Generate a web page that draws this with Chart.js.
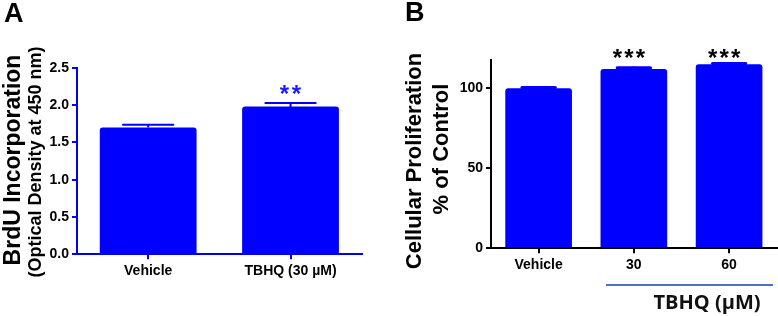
<!DOCTYPE html>
<html>
<head>
<meta charset="utf-8">
<script src="https://cdn.jsdelivr.net/npm/chart.js@4.4.0/dist/chart.umd.min.js"></script>
<style>
  html,body{margin:0;padding:0;background:#fff;}
  #wrap{position:relative;width:778px;height:316px;overflow:hidden;background:#fff;font-family:"Liberation Sans",Arial,sans-serif;}
  canvas{position:absolute;top:0;}
  .rot{position:absolute;white-space:nowrap;line-height:1;font-weight:bold;color:#000;transform:translate(-50%,-50%) rotate(-90deg);}
  .lbl{position:absolute;font-weight:bold;line-height:1;color:#000;}
</style>
</head>
<body>
<div id="wrap">
  <canvas id="cA" width="380" height="316" style="left:0"></canvas>
  <canvas id="cB" width="388" height="316" style="left:390px"></canvas>
  <div class="lbl" style="left:4px;top:0;font-size:27px;">A</div>
  <div class="lbl" style="left:405px;top:-1px;font-size:27px;">B</div>
  <div class="rot" style="left:11.5px;top:160px;font-size:23px;">BrdU Incorporation</div>
  <div class="rot" style="left:35px;top:162px;font-size:18px;">(Optical Density at 450 nm)</div>
  <div class="rot" style="left:414px;top:161px;font-size:22px;">Cellular Proliferation</div>
  <div class="rot" style="left:441px;top:149px;font-size:22px;">% of Control</div>
  <div style="position:absolute;left:606px;top:284px;width:167px;height:2px;background:#4a74c0;"></div>
  <div style="position:absolute;left:707px;top:302px;transform:translate(-50%,-50%);font-family:'Open Sans',sans-serif;font-weight:700;font-size:20px;color:#111;white-space:nowrap;line-height:1;">TBHQ (µM)</div>
</div>
<script>
// ---- Panel A data ----
const catsA = ['Vehicle', 'TBHQ (30 µM)'];
const valsA = [1.70, 1.98];
const errsA = [0.05, 0.06];
const starsA = ['', '**'];
const ticksA = [0, 0.5, 1.0, 1.5, 2.0, 2.5];

// ---- Panel B data ----
const catsB = ['Vehicle', '30', '60'];
const valsB = [100, 112, 115];
const errsB = [1.4, 1.8, 1.4];
const starsB = ['', '***', '***'];
const ticksB = [0, 50, 100];

const BLUE = '#0000ff';
const AXA = '#0000ee';

const errPlugin = {
  id: 'errbars',
  afterDatasetsDraw(chart, args, opts) {
    const ctx = chart.ctx;
    const meta = chart.getDatasetMeta(0);
    const ys = chart.scales.y;
    const ds = chart.data.datasets[0];
    ctx.save();
    meta.data.forEach((bar, i) => {
      const v = ds.data[i], e = opts.errors[i];
      const yTop = ys.getPixelForValue(v + e);
      const yBar = ys.getPixelForValue(v);
      const half = bar.width * opts.capFrac / 2;
      ctx.strokeStyle = opts.color;
      ctx.lineWidth = opts.lineWidth;
      const yc = yTop + opts.lineWidth / 2;
      ctx.beginPath();
      ctx.moveTo(bar.x, yBar);
      ctx.lineTo(bar.x, yc);
      ctx.stroke();
      ctx.beginPath();
      ctx.lineCap = 'round';
      ctx.moveTo(bar.x - half, yc);
      ctx.lineTo(bar.x + half, yc);
      ctx.stroke();
      // stars
      const s = opts.stars[i];
      if (s) {
        ctx.fillStyle = opts.starColor;
        ctx.font = 'bold ' + opts.starSize + 'px "Liberation Sans", Arial, sans-serif';
        ctx.textAlign = 'center';
        ctx.textBaseline = 'alphabetic';
        const yc2 = ys.getPixelForValue(opts.starValue[i]);
        const n = s.length;
        for (let k = 0; k < n; k++) {
          const x = bar.x + opts.starDx + (k - (n - 1) / 2) * opts.starSpacing;
          ctx.fillText('*', x, yc2 + opts.starSize * 0.57);
        }
      }
    });
    ctx.restore();
  }
};

function makeChart(id, cats, vals, o) {
  return new Chart(document.getElementById(id), {
    type: 'bar',
    data: {
      labels: cats,
      datasets: [{
        data: vals,
        backgroundColor: BLUE,
        borderWidth: 0,
        borderRadius: {topLeft: 3, topRight: 3},
        borderSkipped: 'bottom',
        categoryPercentage: 1,
        barPercentage: o.barPct
      }]
    },
    options: {
      responsive: false,
      devicePixelRatio: 1,
      animation: false,
      events: [],
      layout: {padding: o.padding},
      plugins: {
        legend: {display: false},
        tooltip: {enabled: false},
        errbars: o.err
      },
      scales: {
        x: {
          afterFit: s => { s.height = o.xH; },
          border: {color: o.axis, width: 2},
          grid: {display: true, offset: false, drawOnChartArea: false, drawTicks: true, tickLength: 5, color: o.axis, lineWidth: 2},
          ticks: {color: '#000', padding: 3, font: {family: '"Liberation Sans", Arial, sans-serif', weight: 'bold', size: 14}}
        },
        y: {
          min: 0,
          max: o.max,
          afterFit: s => { s.width = o.yW; },
          afterBuildTicks: s => { s.ticks = o.ticks.map(v => ({value: v})); },
          border: {color: o.axis, width: 2},
          grid: {display: true, drawOnChartArea: false, drawTicks: true, tickLength: 5, color: o.axis, lineWidth: 2},
          ticks: {color: '#000', padding: 3, callback: o.fmt, font: {family: '"Liberation Sans", Arial, sans-serif', weight: 'bold', size: o.tickSize}}
        }
      }
    },
    plugins: [errPlugin]
  });
}

makeChart('cA', catsA, valsA, {
  barPct: 0.68,
  padding: {left: 0, top: 67.7, right: 18.3, bottom: 0},
  xH: 61.7, yW: 77, max: 2.5, ticks: ticksA, axis: AXA, tickSize: 14,
  fmt: v => Number(v).toFixed(1),
  err: {errors: errsA, capFrac: 0.52, lineWidth: 2, color: BLUE, stars: starsA, starValue: [0, 2.23], starColor: '#1a1aff', starSize: 24, starSpacing: 12, starDx: 0}
});

makeChart('cB', catsB, valsB, {
  barPct: 0.70,
  padding: {left: 0, top: 60, right: 1.3, bottom: 0},
  xH: 67.7, yW: 101, max: 117.7, ticks: ticksB, axis: '#000', tickSize: 14,
  fmt: v => String(v),
  err: {errors: errsB, capFrac: 0.5, lineWidth: 3, color: BLUE, stars: starsB, starValue: [0, 122.5, 122.5], starColor: '#000', starSize: 24, starSpacing: 11.5, starDx: -5}
});
</script>
</body>
</html>
